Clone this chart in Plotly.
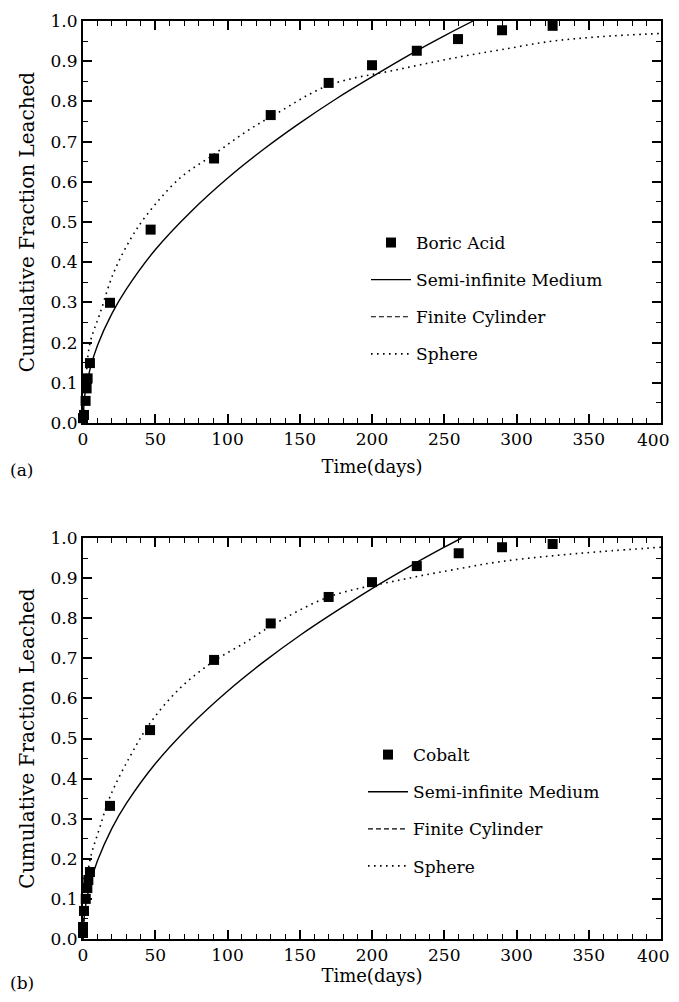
import plotly.graph_objects as go

# ---------------- data ----------------
# (a) Boric Acid
boric_t = [0, 0.7, 1.8, 2.5, 3.2, 4.8, 18.7, 46.8, 90.7, 129.9, 170, 200, 231, 259.5, 290, 325]
boric_f = [0.012, 0.02, 0.055, 0.086, 0.111, 0.149, 0.299, 0.481, 0.658, 0.766, 0.846, 0.890, 0.926, 0.955, 0.977, 0.988]

semi_a_t = [0, 1, 2, 5, 10, 20, 30, 50, 75, 100, 125, 150, 175, 200, 225, 250, 270]
semi_a_f = [0, 0.061, 0.086, 0.136, 0.193, 0.272, 0.333, 0.431, 0.527, 0.609, 0.681, 0.746, 0.806, 0.861, 0.914, 0.963, 1.0]

sph_a_t = [0, 1, 2, 4.8, 11.8, 21, 32.5, 44, 67, 90.2, 113, 134, 170, 219, 261, 288.6, 323, 358, 400]
sph_a_f = [0, 0.07, 0.11, 0.198, 0.273, 0.372, 0.455, 0.517, 0.609, 0.667, 0.725, 0.770, 0.840, 0.880, 0.911, 0.928, 0.949, 0.961, 0.969]

# Finite cylinder curve is not separately visible in the picture (hidden under the sphere curve)
cyl_a_t = [None]
cyl_a_f = [None]

# (b) Cobalt
cobalt_t = [0, 0, 0.7, 1.9, 3.0, 3.7, 4.8, 18.7, 46.4, 90.7, 129.9, 170, 200, 231, 260, 290, 325]
cobalt_f = [0.015, 0.03, 0.07, 0.100, 0.127, 0.147, 0.167, 0.332, 0.521, 0.696, 0.787, 0.853, 0.890, 0.930, 0.962, 0.977, 0.985]

semi_b_t = [0, 1, 2, 5, 10, 20, 30, 50, 75, 100, 125, 150, 175, 200, 225, 250, 262]
semi_b_f = [0, 0.062, 0.087, 0.138, 0.195, 0.276, 0.338, 0.437, 0.535, 0.618, 0.691, 0.757, 0.817, 0.874, 0.927, 0.977, 1.0]

sph_b_t = [0, 1, 2, 4.8, 11.8, 18.7, 32.5, 46.4, 67, 90.2, 113, 129.4, 170, 219, 261, 288.6, 323, 358, 400]
sph_b_f = [0, 0.07, 0.11, 0.197, 0.280, 0.355, 0.455, 0.538, 0.625, 0.692, 0.741, 0.779, 0.853, 0.895, 0.924, 0.941, 0.955, 0.966, 0.977]

cyl_b_t = [None]
cyl_b_f = [None]

x_ticks = [0, 50, 100, 150, 200, 250, 300, 350, 400]
x_tick_labels = ["0", "50", "100", "150", "200", "250", "300", "350", "400"]
y_ticks = [0.0, 0.1, 0.2, 0.3, 0.4, 0.5, 0.6, 0.7, 0.8, 0.9, 1.0]

# ---------------- figure ----------------
FONT = "DejaVu Serif"
fig = go.Figure()

def add_panel(xa, ya, leg, name, pt, pf, st, sf, ct, cf, sph_t, sph_f):
    fig.add_trace(go.Scatter(x=pt, y=pf, mode="markers", name=name,
                             marker=dict(symbol="square", size=10, color="black"),
                             xaxis=xa, yaxis=ya, legend=leg, legendgroup=leg + "1",
                             cliponaxis=False))
    fig.add_trace(go.Scatter(x=st, y=sf, mode="lines", name="Semi-infinite Medium",
                             line=dict(color="black", width=1.4, shape="spline"),
                             xaxis=xa, yaxis=ya, legend=leg, legendgroup=leg + "2"))
    fig.add_trace(go.Scatter(x=ct, y=cf, mode="lines", name="Finite Cylinder",
                             line=dict(color="black", width=1.2, dash="5px,3px"),
                             xaxis=xa, yaxis=ya, legend=leg, legendgroup=leg + "3"))
    fig.add_trace(go.Scatter(x=sph_t, y=sph_f, mode="lines", name="Sphere",
                             line=dict(color="black", width=1.6, dash="1.6px,4.4px", shape="spline"),
                             xaxis=xa, yaxis=ya, legend=leg, legendgroup=leg + "4"))

add_panel("x", "y", "legend", "Boric Acid", boric_t, boric_f, semi_a_t, semi_a_f,
          cyl_a_t, cyl_a_f, sph_a_t, sph_a_f)
add_panel("x2", "y2", "legend2", "Cobalt", cobalt_t, cobalt_f, semi_b_t, semi_b_f,
          cyl_b_t, cyl_b_f, sph_b_t, sph_b_f)

# the last x label would run past the visible page edge; it is drawn as an annotation
# right-aligned to the edge instead
axis_labels = x_tick_labels[:-1] + [""]

def xaxis_cfg(standoff):
    return dict(range=[0, 400], tickvals=x_ticks, ticktext=axis_labels, ticks="inside",
                ticklen=9, tickwidth=1.5, tickcolor="black", showline=True, linewidth=2,
                linecolor="black", mirror="ticks", showgrid=False, zeroline=False,
                automargin=False, tickfont=dict(family=FONT, size=17, color="black"),
                minor=dict(dtick=10, ticks="inside", ticklen=5, tickwidth=1.3,
                           tickcolor="black", showgrid=False),
                title=dict(text="Time(days)", font=dict(family=FONT, size=18, color="black"),
                           standoff=standoff))

ycommon = dict(range=[0, 1.0], tickvals=y_ticks, tickformat=".1f", ticks="inside", ticklen=9,
               tickwidth=1.5, tickcolor="black", showline=True, linewidth=2, linecolor="black",
               mirror="ticks", showgrid=False, zeroline=False, automargin=False,
               tickfont=dict(family=FONT, size=17, color="black"),
               minor=dict(dtick=0.05, ticks="inside", ticklen=5, tickwidth=1.3, tickcolor="black",
                          showgrid=False),
               title=dict(text="Cumulative Fraction Leached",
                          font=dict(family=FONT, size=20, color="black"), standoff=11))

H_TOP = [0.5621, 1.0]
H_BOT = [0.0, 0.4368]

legend_common = dict(font=dict(family=FONT, size=17, color="black"), bgcolor="rgba(0,0,0,0)",
                     borderwidth=0, tracegroupgap=12, xanchor="left", yanchor="top",
                     itemwidth=40)

label_font = dict(family=FONT, size=17, color="black")
annotations = [
    dict(text="(a)", xref="paper", yref="paper", x=-0.13, y=0.511, xanchor="left",
         yanchor="middle", showarrow=False, font=label_font),
    dict(text="(b)", xref="paper", yref="paper", x=-0.13, y=-0.0479, xanchor="left",
         yanchor="middle", showarrow=False, font=label_font),
]
for dom in (H_TOP, H_BOT):
    annotations.append(dict(text=x_tick_labels[-1], xref="paper", yref="paper",
                            x=1.0173, y=dom[0], xanchor="right", yanchor="middle",
                            yshift=-17, showarrow=False, font=label_font))

# the page places the figure 8px in from the top-left corner; size it to fit the window
fig.update_layout(
    width=671, height=986,
    margin=dict(l=75, r=18, t=13, b=55, autoexpand=False),
    paper_bgcolor="white", plot_bgcolor="white",
    font=dict(family=FONT, color="black"),
    xaxis=dict(domain=[0, 1], anchor="y", **xaxis_cfg(12)),
    yaxis=dict(domain=H_TOP, anchor="x", **ycommon),
    xaxis2=dict(domain=[0, 1], anchor="y2", **xaxis_cfg(4)),
    yaxis2=dict(domain=H_BOT, anchor="x2", **ycommon),
    showlegend=True,
    legend=dict(x=0.4896, y=0.7778, **legend_common),
    legend2=dict(x=0.4844, y=0.220, **legend_common),
    annotations=annotations,
)

fig.write_html("out.html")
